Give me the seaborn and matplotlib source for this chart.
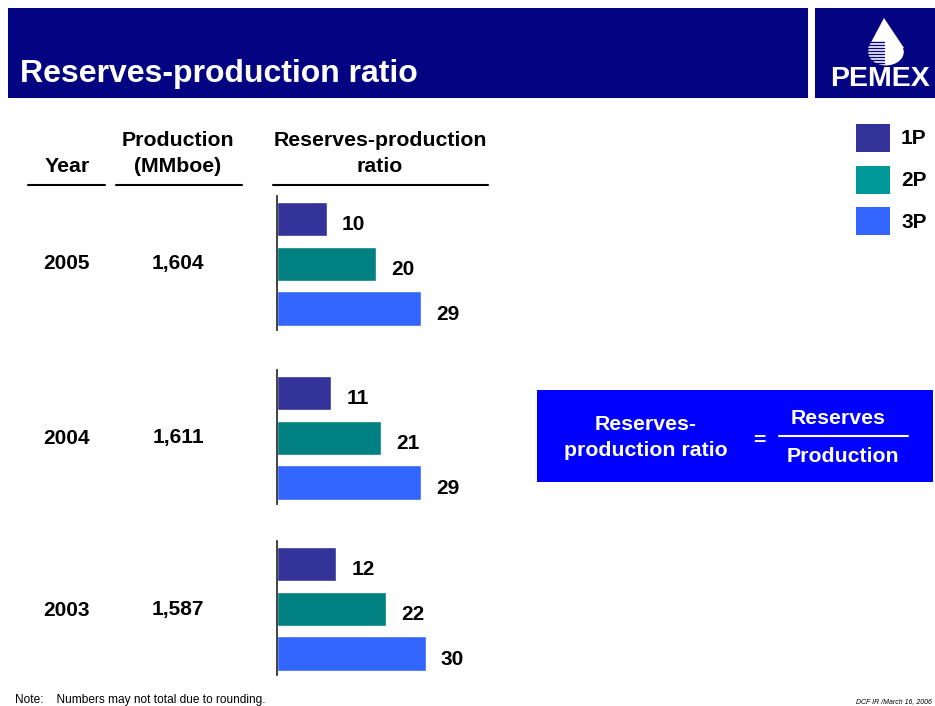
import matplotlib
matplotlib.use("Agg")
import matplotlib.pyplot as plt
import seaborn as sns
import pandas as pd
from matplotlib.patches import Rectangle, Polygon, Circle

sns.set_theme(style="white")
plt.rcParams['font.family'] = ['Liberation Sans', 'DejaVu Sans']
plt.rcParams['text.color'] = 'black'

# ---- data ----
years = ["2005", "2004", "2003"]
production = ["1,604", "1,611", "1,587"]
series = ["1P", "2P", "3P"]
ratio_1p = [10, 11, 12]
ratio_2p = [20, 21, 22]
ratio_3p = [29, 29, 30]
bar_colors = ["#333399", "#008080", "#3366FF"]
legend_colors = ["#333399", "#009999", "#3366FF"]

W, H = 935, 706
fig = plt.figure(figsize=(W / 100, H / 100), dpi=100)
fig.patch.set_facecolor("white")


def fx(x):
    return x / W


def fy(y):
    return 1 - y / H


def rect(x0, y0, x1, y1, color):
    fig.patches.append(Rectangle((fx(x0), fy(y1)), fx(x1) - fx(x0), fy(y0) - fy(y1),
                                 transform=fig.transFigure, facecolor=color,
                                 edgecolor="none", zorder=0))


def txt(x, y, s, **kw):
    kw.setdefault("ha", "center")
    kw.setdefault("va", "center")
    kw.setdefault("fontweight", "bold")
    kw.setdefault("color", "black")
    fig.text(fx(x), fy(y), s, **kw)


def hline(x0, x1, y, color="black", lw=1.3):
    fig.add_artist(plt.Line2D([fx(x0), fx(x1)], [fy(y), fy(y)],
                              transform=fig.transFigure, color=color, lw=lw))


# ---- header ----
navy = "#040482"
rect(8, 8, 808, 98, navy)
rect(815, 8, 935, 98, navy)
txt(20, 74, "Reserves-production ratio", ha="left", color="white", fontsize=23)
# logo
drop = Polygon([(fx(884), fy(18)), (fx(868), fy(48)), (fx(904), fy(48))],
               closed=True, transform=fig.transFigure, facecolor="white", edgecolor="none")
fig.patches.append(drop)
fig.patches.append(Circle((fx(886), fy(52)), 0.019, transform=fig.transFigure,
                          facecolor="white", edgecolor="none"))
for i, yy in enumerate(range(42, 66, 3)):
    hline(858 + i, 884, yy, color=navy, lw=1.0)
txt(880, 79, "PEMEX", color="white", fontsize=20.5)

# ---- table headers ----
hdr = 15.3
txt(67, 166, "Year", fontsize=hdr)
txt(178, 141, "Production", fontsize=hdr)
txt(178, 166, "(MMboe)", fontsize=hdr)
txt(380, 141, "Reserves-production", fontsize=hdr)
txt(380, 166, "ratio", fontsize=hdr)
hline(28, 105, 185, lw=1.5)
hline(116, 242, 185, lw=1.5)
hline(273, 488, 185, lw=1.5)

# ---- bar groups ----
group_tops = [196, 370, 541]
row_y = [263, 438, 610]
ax_h = 134
ax_w = 200
px_per_unit = 4.95
for i, yr in enumerate(years):
    top = group_tops[i]
    ax = fig.add_axes([fx(277), fy(top + ax_h), ax_w / W, ax_h / H])
    df = pd.DataFrame({"series": series,
                       "value": [ratio_1p[i], ratio_2p[i], ratio_3p[i]]})
    sns.barplot(data=df, x="value", y="series", hue="series", palette=bar_colors,
                saturation=1, width=0.77, dodge=False, legend=False, orient="h", ax=ax)
    ax.set_xlim(0, ax_w / px_per_unit)
    ax.set_ylim(2.48, -0.52)
    for p in ax.patches:
        w = p.get_width()
        if w <= 0:
            continue
        ax.annotate(f"{w:.0f}", (w, p.get_y() + p.get_height() / 2),
                    xytext=(11, -4), textcoords="offset points",
                    ha="left", va="center", fontsize=15, fontweight="bold",
                    color="black", annotation_clip=False)
    for s in ["top", "right", "bottom"]:
        ax.spines[s].set_visible(False)
    ax.spines["left"].set_color("#333333")
    ax.spines["left"].set_linewidth(1.3)
    ax.set_xticks([])
    ax.set_yticks([])
    ax.set_xlabel("")
    ax.set_ylabel("")
    ax.patch.set_alpha(0)
    txt(67, row_y[i], yr, fontsize=15)
    txt(178, row_y[i], production[i], fontsize=15)

# ---- legend ----
leg_y = [138, 180, 221]
for s, c, yy in zip(series, legend_colors, leg_y):
    rect(856, yy - 14, 890, yy + 14, c)
    txt(901, yy + 1, s, ha="left", fontsize=15)

# ---- formula box ----
rect(537, 390, 933, 482, "#0000FF")
fs = 15.3
txt(646, 425, "Reserves-", color="white", fontsize=fs)
txt(646, 450, "production ratio", color="white", fontsize=fs)
txt(759, 441, "=", color="white", fontsize=fs)
txt(838, 418, "Reserves", color="white", fontsize=fs)
hline(779, 908, 436, color="white", lw=1.5)
txt(843, 456, "Production", color="white", fontsize=fs)

# ---- footer ----
txt(15, 700, "Note:    Numbers may not total due to rounding.", ha="left",
    fontweight="normal", fontsize=8.6)
txt(856, 702, "DCF IR /March 16, 2006", ha="left", fontweight="normal",
    fontsize=5, style="italic")

fig.savefig("out.png", dpi=100)
